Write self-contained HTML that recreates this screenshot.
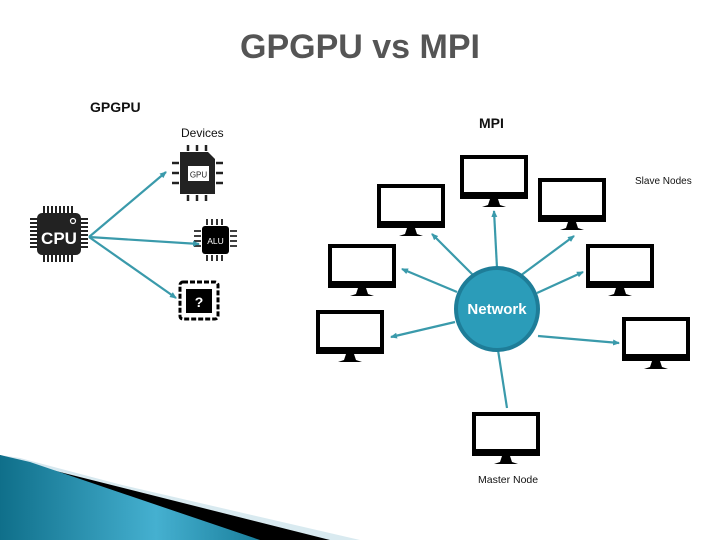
<!DOCTYPE html>
<html><head><meta charset="utf-8"><style>
html,body{margin:0;padding:0;background:#fff}
svg{display:block}
</style></head><body>
<svg width="720" height="540" viewBox="0 0 720 540" xmlns="http://www.w3.org/2000/svg" font-family="'Liberation Sans', sans-serif">
<defs>
<marker id="a" markerWidth="8" markerHeight="8" refX="6" refY="4" orient="auto" markerUnits="userSpaceOnUse"><path d="M0,1 L7,4 L0,7 Z" fill="#3a9aab"/></marker>
<linearGradient id="bl" x1="0" y1="0" x2="1" y2="0"><stop offset="0" stop-color="#0f6f8a"/><stop offset="0.6" stop-color="#45b0d0"/><stop offset="1" stop-color="#1a7f9c"/></linearGradient>
<g id="m"><rect x="2" y="2" width="64" height="40" fill="#fff" stroke="#000" stroke-width="4"/><rect x="0" y="37" width="68" height="7" fill="#000"/><path d="M30,44 L38,44 L40,50 L46,52 L22,52 L28,50 Z" fill="#000"/></g>
</defs>
<!-- bottom decoration -->
<polygon points="0,455 20,458 330,540 0,540" fill="#d7e8ef"/>
<polygon points="0,455 40,466 360,540 0,540" fill="#d9eaf0"/>
<polygon points="0,455 40,467 330,540 0,540" fill="#000"/>
<polygon points="0,455 30,462 260,540 0,540" fill="url(#bl)"/>
<text x="360" y="58" text-anchor="middle" font-size="34" font-weight="bold" fill="#555">GPGPU vs MPI</text>
<text x="90" y="112" font-size="14" font-weight="bold" fill="#111">GPGPU</text>
<text x="181" y="137" font-size="12" fill="#111">Devices</text>
<text x="479" y="128" font-size="14" font-weight="bold" fill="#111">MPI</text>
<text x="635" y="184" font-size="10" fill="#111">Slave Nodes</text>
<text x="478" y="483" font-size="10.5" fill="#111">Master Node</text>
<!-- CPU -->
<g fill="#222">
<rect x="37" y="213" width="44" height="42" rx="5"/>
<g stroke="#222" stroke-width="2"><path d="M44,206v7M48,206v7M52,206v7M56,206v7M60,206v7M64,206v7M68,206v7M72,206v7M44,255v7M48,255v7M52,255v7M56,255v7M60,255v7M64,255v7M68,255v7M72,255v7M30,219h7M30,223h7M30,227h7M30,231h7M30,235h7M30,239h7M30,243h7M30,247h7M81,219h7M81,223h7M81,227h7M81,231h7M81,235h7M81,239h7M81,243h7M81,247h7"/></g>
</g>
<text x="59" y="244" text-anchor="middle" font-size="17" font-weight="bold" fill="#fff">CPU</text>
<circle cx="73" cy="221" r="2.5" fill="none" stroke="#fff" stroke-width="1.2"/>
<!-- GPU -->
<path d="M180,152 H208 L215,159 V194 H180 Z" fill="#222"/>
<g stroke="#222" stroke-width="2.5"><path d="M188,145v6M197,145v6M206,145v6M188,195v6M197,195v6M206,195v6M172,163h7M172,173h7M172,183h7M216,163h7M216,173h7M216,183h7"/></g>
<rect x="188" y="166" width="21" height="15" fill="#fff"/>
<text x="198.5" y="177.5" text-anchor="middle" font-size="8" fill="#222">GPU</text>
<!-- ALU -->
<rect x="202" y="226" width="27" height="28" rx="3" fill="#000"/>
<g stroke="#000" stroke-width="1.6"><path d="M207,219v6M212,219v6M217,219v6M222,219v6M207,255v6M212,255v6M217,255v6M222,255v6M194,231h7M194,236h7M194,241h7M194,246h7M230,231h7M230,236h7M230,241h7M230,246h7"/></g>
<text x="215.5" y="244" text-anchor="middle" font-size="8.5" fill="#fff">ALU</text>
<!-- ? -->
<rect x="180" y="282" width="38" height="37" rx="3" fill="none" stroke="#000" stroke-width="3" stroke-dasharray="5,2"/>
<rect x="186" y="289" width="26" height="24" fill="#000"/>
<text x="199" y="307" text-anchor="middle" font-size="14" font-weight="bold" fill="#fff">?</text>
<!-- GPGPU arrows -->
<g stroke="#3a9aab" stroke-width="2.2" fill="none" marker-end="url(#a)">
<line x1="89" y1="237" x2="166" y2="172"/>
<line x1="89" y1="237" x2="199" y2="244"/>
<line x1="89" y1="237" x2="176" y2="298"/>
</g>
<!-- monitors -->
<use href="#m" x="460" y="155"/>
<use href="#m" x="377" y="184"/>
<use href="#m" x="538" y="178"/>
<use href="#m" x="328" y="244"/>
<use href="#m" x="586" y="244"/>
<use href="#m" x="316" y="310"/>
<use href="#m" x="622" y="317"/>
<use href="#m" x="472" y="412"/>
<!-- MPI arrows -->
<g stroke="#3a9aab" stroke-width="2.2" fill="none" marker-end="url(#a)">
<line x1="497" y1="268" x2="494" y2="211"/>
<line x1="474" y1="276" x2="432" y2="234"/>
<line x1="520" y1="276" x2="574" y2="236"/>
<line x1="457" y1="292" x2="402" y2="269"/>
<line x1="537" y1="293" x2="583" y2="272"/>
<line x1="455" y1="322" x2="391" y2="337"/>
<line x1="538" y1="336" x2="619" y2="343"/>
</g>
<line x1="498" y1="350" x2="507" y2="408" stroke="#3a9aab" stroke-width="2.2"/>
<circle cx="497" cy="309" r="41" fill="#2b9cb9" stroke="#1e7d98" stroke-width="4"/>
<text x="497" y="314" text-anchor="middle" font-size="15" font-weight="bold" fill="#fff">Network</text>
</svg>
</body></html>
